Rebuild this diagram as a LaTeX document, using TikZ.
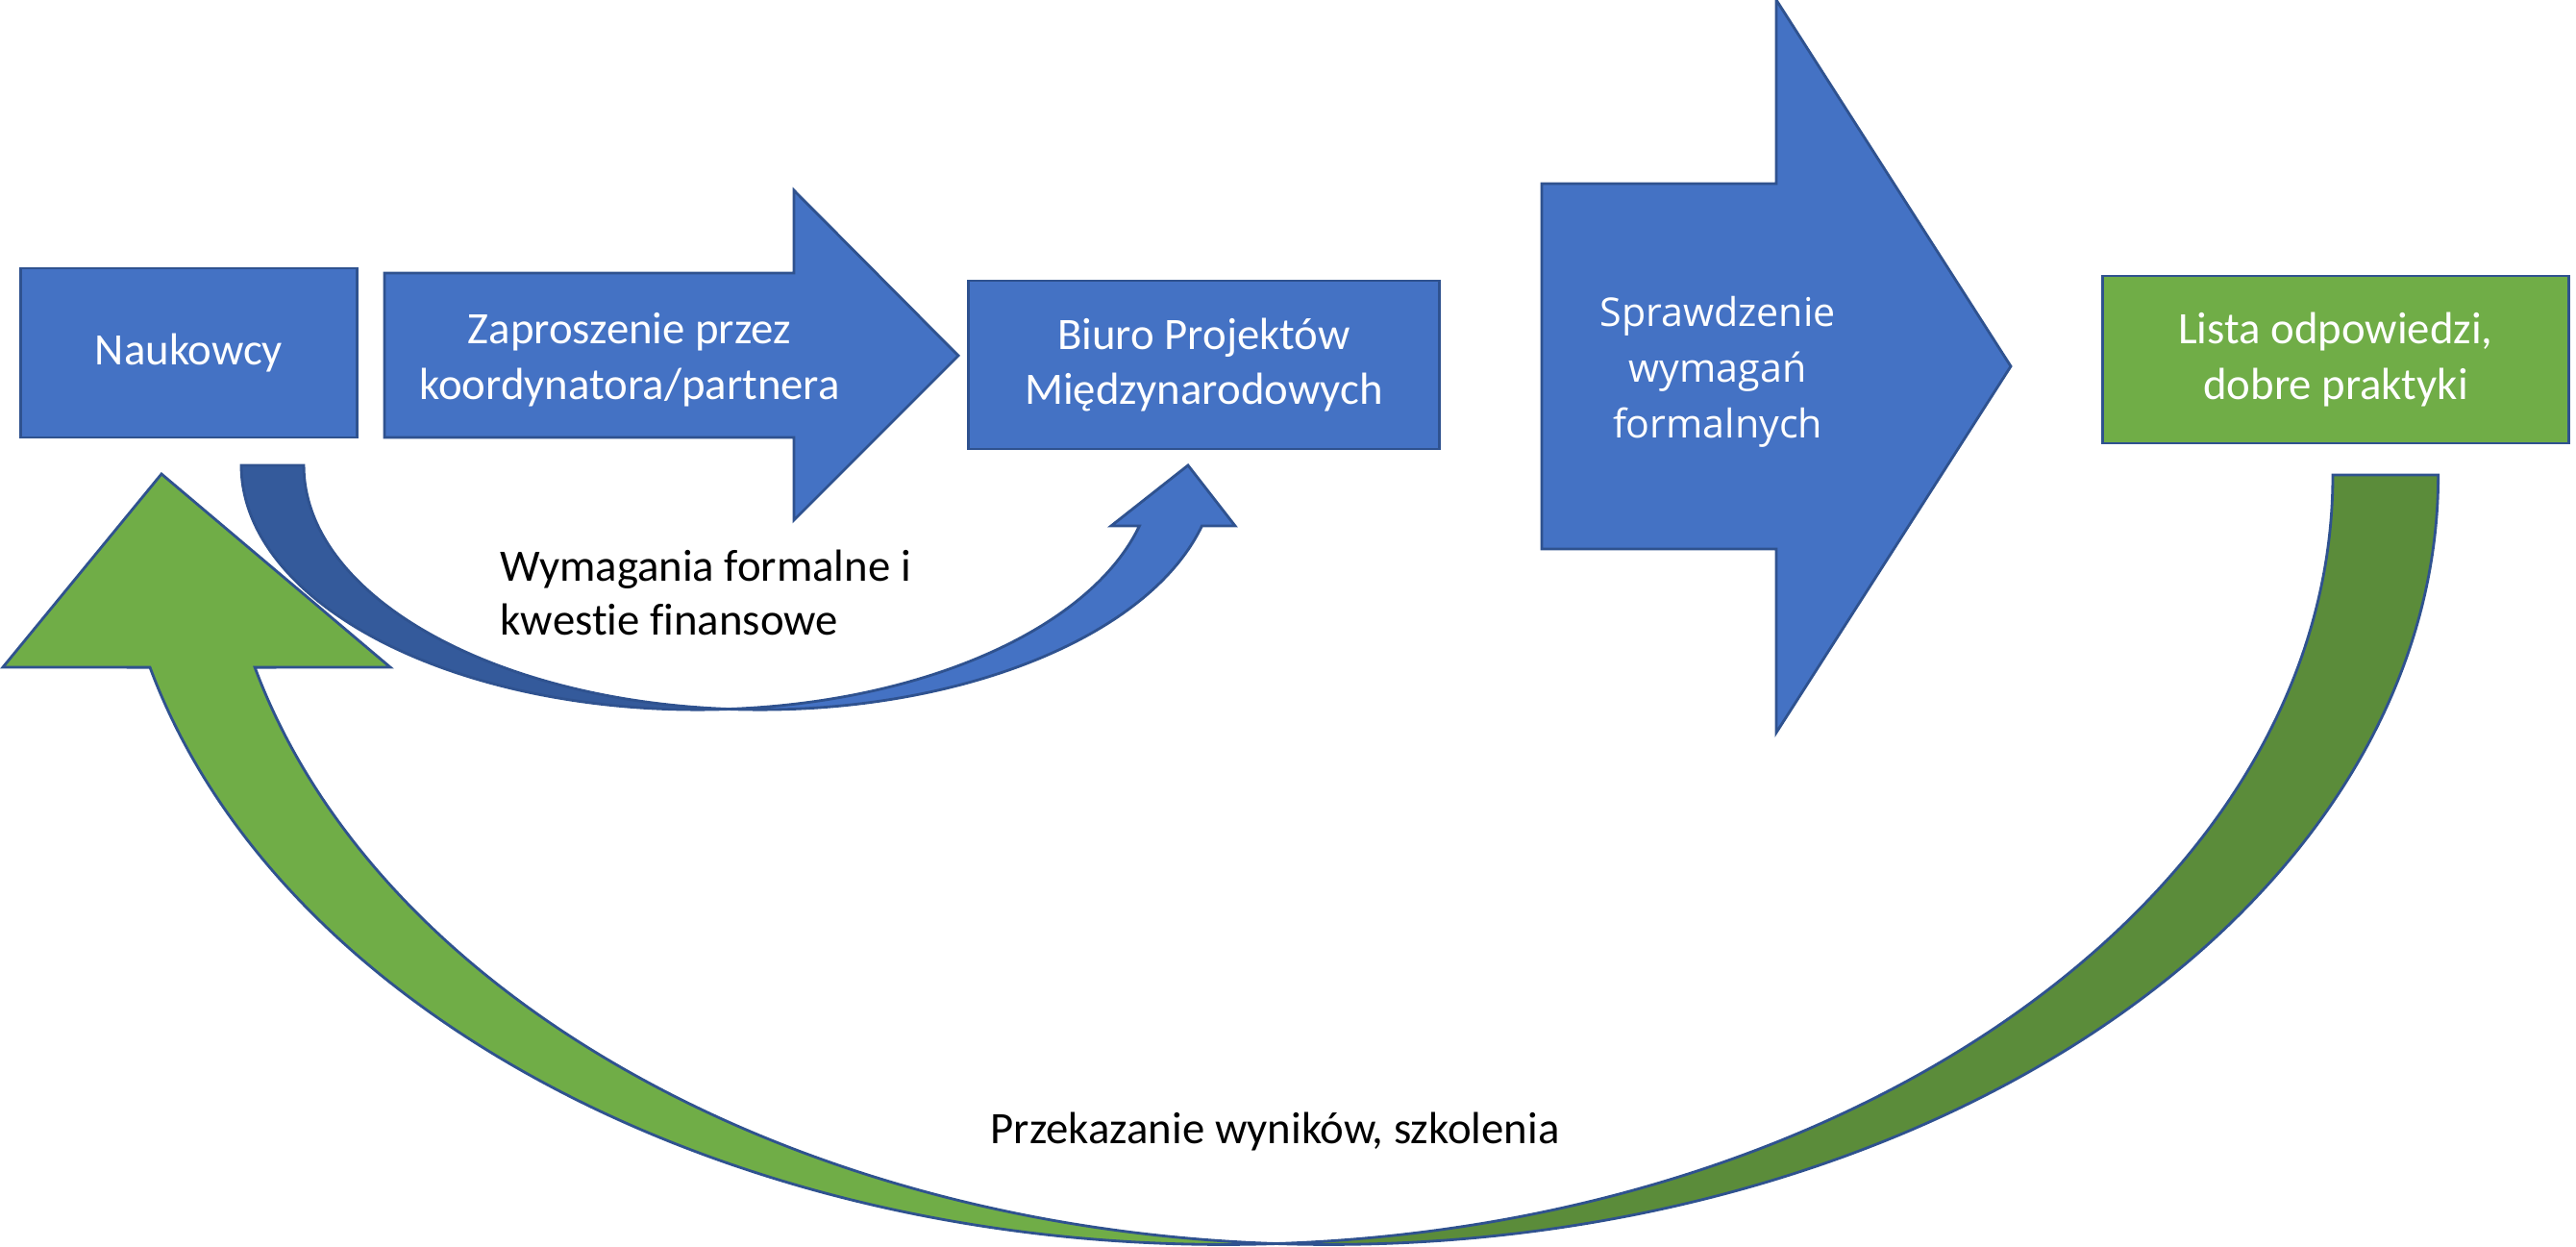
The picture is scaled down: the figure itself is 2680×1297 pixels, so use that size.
\documentclass[tikz,border=0pt]{standalone}
\usepackage{fontspec}
\setmainfont{Carlito}[Ligatures=NoCommon]
\newfontfamily\opensans{Open Sans}
\usepackage{tikz}
\usetikzlibrary{calc}

\definecolor{ppblue}{HTML}{4472C4}
\definecolor{ppedge}{HTML}{2F528F}
\definecolor{ppdark}{HTML}{345A9B}
\definecolor{ppgreen}{HTML}{70AD47}
\definecolor{ppdkgreen}{HTML}{5B8C3A}

\begin{document}
\begin{tikzpicture}[x=0.01cm, y=0.01cm,
        blk/.style={draw=ppedge, line width=0.8pt},
        box/.style={blk, rectangle, inner sep=0pt, align=center, text=white,
            font=\fontsize{13.3pt}{16.4pt}\selectfont},
        lbl/.style={inner sep=0pt, align=center, text=white,
            font=\fontsize{13.3pt}{16.4pt}\selectfont},
        txt/.style={inner sep=0pt, align=left,
            font=\fontsize{13.3pt}{16pt}\selectfont},
        gell/.style={x radius=11.535cm, y radius=8cm},
        bell/.style={x radius=4.745cm, y radius=2.54cm}]
                \useasboundingbox (0,0) rectangle (2680,1297);

                % return arrow, green
                \coordinate (gR) at (1382.5,803);
                \coordinate (gL) at (1273.5,803);
                \path[blk, fill=ppgreen] ($(gL)+(194.48:11.535cm and 8cm)$)
                    arc[gell, start angle=194.48, end angle=272.71]
                    arc[gell, start angle=267.29, end angle=194.48]
                    -- (406,603) -- (168,804) -- (3,603) -- cycle;
                \path[blk, fill=ppdkgreen] ($(gR)+(267.29:11.535cm and 8cm)$)
                    arc[gell, start angle=267.29, end angle=360]
                    -- (2427,803)
                    arc[gell, start angle=0, end angle=-87.29]
                    -- cycle;

                % curved arrow to the office
                \coordinate (bR) at (790.5,813);
                \coordinate (bL) at (725.5,813);
                \path[blk, fill=ppdark] (251,813)
                    arc[bell, start angle=180, end angle=273.93]
                    arc[bell, start angle=266.07, end angle=180]
                    -- cycle;
                \path[blk, fill=ppblue] ($(bR)+(266.07:4.745cm and 2.54cm)$)
                    arc[bell, start angle=266.07, end angle=345.64]
                    -- (1285,750) -- (1236,813) -- (1156,750)
                    -- ($(bL)+(345.64:4.745cm and 2.54cm)$)
                    arc[bell, start angle=345.64, end angle=273.93]
                    -- cycle;

                % block arrows
                \path[blk, fill=ppblue] (400,842) -- (826,842) -- (826,756) -- (997,927)
                    -- (826,1099) -- (826,1013) -- (400,1013) -- cycle;
                \path[blk, fill=ppblue] (1604,726) -- (1848,726) -- (1848,535) -- (2092,916)
                    -- (1848,1297) -- (1848,1106) -- (1604,1106) -- cycle;

                % boxes
                \node[box, fill=ppblue, minimum width=3.49cm, minimum height=1.76cm]
                    (Nauk)  at (196.5,930)  {Naukowcy};
                \node[box, fill=ppblue, minimum width=4.89cm, minimum height=1.75cm]
                    (Biuro) at (1252.5,917.5) {Biuro Projektów\\Międzynarodowych};
                \node[box, fill=ppgreen, minimum width=4.84cm, minimum height=1.74cm]
                    (Lista) at (2430,923)   {Lista odpowiedzi,\\dobre praktyki};

                % labels
                \node[lbl] (Zapr)  at (655,923)  {Zaproszenie przez\\koordynatora/partnera};
                \node[lbl, font=\opensans\fontsize{11.7pt}{16.4pt}\selectfont]
                    (Spraw) at (1787,910) {Sprawdzenie\\wymagań\\formalnych};
                \node[txt, anchor=north west] (Wym)   at (520,726)
                    {Wymagania formalne i\\kwestie finansowe};
                \node[txt, anchor=base west]  (Przek) at (1030,107)
                    {Przekazanie wyników, szkolenia};
            \end{tikzpicture}
\end{document}
